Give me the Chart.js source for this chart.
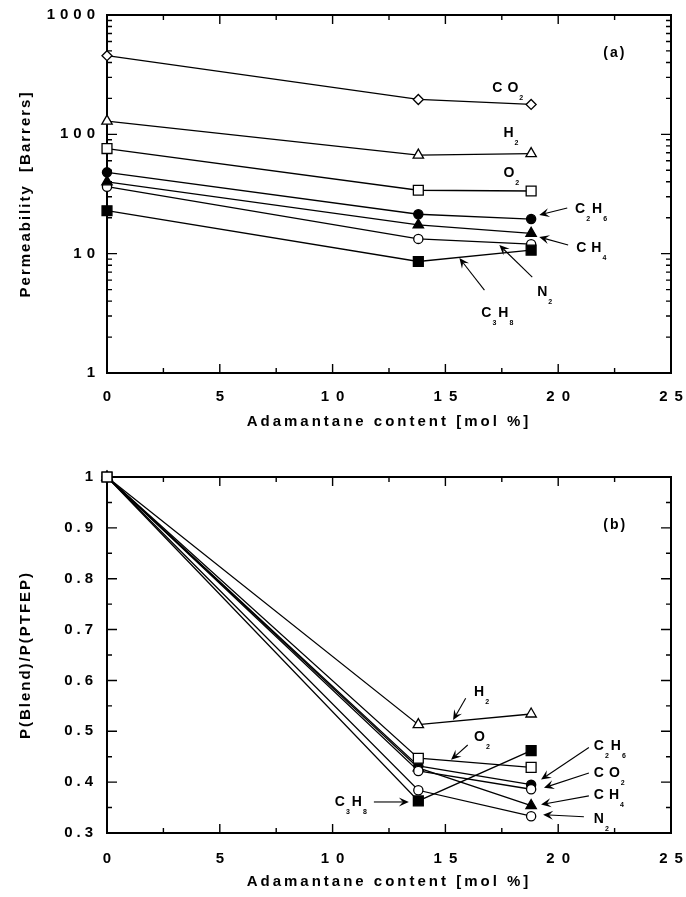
<!DOCTYPE html>
<html><head><meta charset="utf-8">
<script src="https://cdn.jsdelivr.net/npm/chart.js@4/dist/chart.umd.min.js"></script>
<style>
html,body{margin:0;padding:0;background:#fff;}
#wrap{position:relative;width:686px;height:897px;background:#fff;}
.c{position:absolute;left:0;width:686px;}
</style></head><body>
<div id="wrap">
<div class="c" style="top:0;height:440px"><canvas id="ca"></canvas></div>
<div class="c" style="top:440px;height:457px"><canvas id="cb"></canvas></div>
</div>
<script>
// ---------- data ----------
const adamantane = [0, 13.8, 18.8];               // mol %
const gases = ['CO2', 'H2', 'O2', 'C2H6', 'CH4', 'N2', 'C3H8'];
// (a) permeability [Barrers]
const permCO2  = [456, 196, 178];
const permH2   = [129, 67, 69];
const permO2   = [76, 34, 33.5];
const permC2H6 = [48, 21.4, 19.5];
const permCH4  = [40, 17.4, 14.8];
const permN2   = [36.4, 13.3, 12.0];
const permC3H8 = [22.9, 8.6, 10.7];
// (b) P(Blend)/P(PTFEP)
const ratioCO2  = [1, 0.422, 0.386];
const ratioH2   = [1, 0.513, 0.534];
const ratioO2   = [1, 0.447, 0.429];
const ratioC2H6 = [1, 0.432, 0.395];
const ratioCH4  = [1, 0.428, 0.354];
const ratioN2   = [1, 0.384, 0.333];
const ratioC3H8 = [1, 0.363, 0.462];
// tick labels
const xTicks = [0, 5, 10, 15, 20, 25];
const xMinorTicks = [2.5, 7.5, 12.5, 17.5, 22.5];
const yTicksA = [1, 10, 100, 1000];
const yTicksB = [0.3, 0.4, 0.5, 0.6, 0.7, 0.8, 0.9, 1];
const yMinorB = [0.35, 0.45, 0.55, 0.65, 0.75, 0.85, 0.95];
// annotations (data coordinates): [text, x, y]
const labelsA = [['(a)', 22.0, 480], ['CO_2', 17.08, 244], ['H_2', 17.57, 102.6], ['O_2', 17.57, 47.4],
  ['C_2H_6', 20.75, 23.7], ['CH_4', 20.8, 11.1], ['N_2', 19.07, 4.77], ['C_3H_8', 16.59, 3.18]];
const arrowsA = [[20.4, 24.1, 19.16, 21.1], [20.44, 11.8, 19.16, 13.8], [18.85, 6.37, 17.39, 11.8], [16.73, 4.95, 15.62, 9.19]];
const labelsB = [['(b)', 22.0, 0.905], ['H_2', 16.27, 0.577], ['O_2', 16.27, 0.489], ['C_2H_6', 21.58, 0.470],
  ['CO_2', 21.58, 0.418], ['CH_4', 21.58, 0.375], ['N_2', 21.58, 0.328], ['C_3H_8', 10.1, 0.360]];
const arrowsB = [[15.9, 0.565, 15.34, 0.522], [15.99, 0.473, 15.25, 0.444], [21.36, 0.468, 19.24, 0.405],
  [21.36, 0.418, 19.37, 0.389], [21.36, 0.373, 19.24, 0.356], [21.14, 0.332, 19.33, 0.336], [11.83, 0.361, 13.38, 0.361]];

// ---------- styles ----------
const FONT = '"Liberation Sans", Arial, Helvetica, sans-serif';
const markA = {CO2:['rectRot',false,5], H2:['triangle',false,6], O2:['rect',false,7], C2H6:['circle',true,4.6],
  CH4:['triangle',true,6], N2:['circle',false,4.6], C3H8:['rect',true,7]};
const markB = {CO2:['circle',false,4.6], H2:['triangle',false,6], O2:['rect',false,7], C2H6:['circle',true,4.6],
  CH4:['triangle',true,6], N2:['circle',false,4.6], C3H8:['rect',true,7]};
const dataA = {CO2:permCO2, H2:permH2, O2:permO2, C2H6:permC2H6, CH4:permCH4, N2:permN2, C3H8:permC3H8};
const dataB = {CO2:ratioCO2, H2:ratioH2, O2:ratioO2, C2H6:ratioC2H6, CH4:ratioCH4, N2:ratioN2, C3H8:ratioC3H8};
const orderA = {C3H8: -2};
const orderB = {O2: -1};

function datasets(data, marks, orders) {
  return gases.map(g => {
    const [ps, filled, r] = marks[g];
    return {
      label: g,
      data: adamantane.map((x, i) => ({x, y: data[g][i]})),
      borderColor: '#000', borderWidth: 1.3,
      pointStyle: ps, pointRadius: r, pointHoverRadius: r,
      pointBackgroundColor: filled ? '#000' : '#fff',
      pointBorderColor: '#000', pointBorderWidth: 1.3,
      showLine: true, fill: false, tension: 0, clip: false,
      order: orders[g] || 0
    };
  });
}

function drawRich(ctx, str, x, y) {
  const chars = [];
  for (let i = 0; i < str.length; i++) {
    if (str[i] === '_') { chars.push([str[i + 1], true]); i++; }
    else chars.push([str[i], false]);
  }
  let cx = x;
  ctx.textAlign = 'left'; ctx.textBaseline = 'middle'; ctx.fillStyle = '#000';
  chars.forEach(([ch, sub], k) => {
    ctx.font = sub ? 'bold 7px ' + FONT : 'bold 14px ' + FONT;
    ctx.fillText(ch, cx, sub ? y + 10 : y);
    const next = chars[k + 1];
    let gap = 5;
    if (next && next[1]) gap = 1; else if (sub) gap = 2;
    if (ch === '(' || ch === ')' || (next && next[0] === ')')) gap = 2;
    cx += ctx.measureText(ch).width + gap;
  });
}

function drawArrow(ctx, x1, y1, x2, y2) {
  const ang = Math.atan2(y2 - y1, x2 - x1);
  const L = 10, W = 4.5, N = 6;
  ctx.beginPath(); ctx.moveTo(x1, y1);
  ctx.lineTo(x2 - Math.cos(ang) * N, y2 - Math.sin(ang) * N); ctx.stroke();
  const c = Math.cos(ang), s = Math.sin(ang);
  const bx = x2 - c * L, by = y2 - s * L;
  ctx.beginPath();
  ctx.moveTo(x2, y2);
  ctx.lineTo(bx - s * W, by + c * W);
  ctx.lineTo(x2 - c * N, y2 - s * N);
  ctx.lineTo(bx + s * W, by - c * W);
  ctx.closePath(); ctx.fill();
}

function makePlugin(cfg) {
  return {
    id: 'frame',
    beforeDraw(chart) {
      Object.values(chart.scales).forEach(sc => {
        if (sc._spWrapped) return;
        sc._spWrapped = true;
        const dl = sc.drawLabels, dt = sc.drawTitle;
        const ls = sc.axis === 'x' ? cfg.xSp : cfg.ySp;
        const ts = sc.axis === 'x' ? cfg.xTitleSp : cfg.yTitleSp;
        sc.drawLabels = function (a) { const c = this.ctx; const o = c.letterSpacing; c.letterSpacing = ls; dl.call(this, a); c.letterSpacing = o; };
        sc.drawTitle = function (a) { const c = this.ctx; const o = c.letterSpacing; c.letterSpacing = ts; dt.call(this, a); c.letterSpacing = o; };
      });
    },
    beforeDatasetsDraw(chart) {
      const {ctx, chartArea: a, scales: {x, y}} = chart;
      ctx.save();
      ctx.strokeStyle = '#000';
      ctx.lineWidth = 2;
      ctx.strokeRect(a.left, a.top, a.right - a.left, a.bottom - a.top);
      ctx.lineWidth = 1.4;
      ctx.beginPath();
      const tk = (vals, len, isX) => vals.forEach(v => {
        if (isX) { const p = x.getPixelForValue(v); ctx.moveTo(p, a.bottom); ctx.lineTo(p, a.bottom - len); ctx.moveTo(p, a.top); ctx.lineTo(p, a.top + len); }
        else { const p = y.getPixelForValue(v); ctx.moveTo(a.left, p); ctx.lineTo(a.left + len, p); ctx.moveTo(a.right, p); ctx.lineTo(a.right - len, p); }
      });
      tk(cfg.xMajor, 9, true); tk(cfg.xMinor, 5, true);
      tk(cfg.yMajor, 10, false); tk(cfg.yMinor, 5, false);
      ctx.stroke();
      ctx.restore();
    },
    afterDraw(chart) {
      const {ctx, scales: {x, y}} = chart;
      ctx.save();
      ctx.strokeStyle = '#000'; ctx.fillStyle = '#000'; ctx.lineWidth = 1.1;
      cfg.arrows.forEach(([a, b, c, d]) => drawArrow(ctx, x.getPixelForValue(a), y.getPixelForValue(b), x.getPixelForValue(c), y.getPixelForValue(d)));
      cfg.labels.forEach(([t, a, b]) => drawRich(ctx, t, x.getPixelForValue(a), y.getPixelForValue(b)));
      ctx.restore();
    }
  };
}

function xScale(titlePadBottom, tickPad, height) {
  return {
    type: 'linear', min: 0, max: 25,
    afterBuildTicks: s => { s.ticks = xTicks.map(v => ({value: v})); },
    ticks: {padding: tickPad, labelOffset: 3.5, color: '#000', font: {family: FONT, size: 15, weight: 'bold'}, maxRotation: 0, autoSkip: false, callback: v => String(v)},
    grid: {display: false, drawTicks: false}, border: {display: false},
    title: {display: true, text: 'Adamantane content [mol %]', color: '#000', font: {family: FONT, size: 15, weight: 'bold'}, padding: {top: 0, bottom: titlePadBottom}},
    afterFit: s => { s.height = height; s.paddingLeft = 0; s.paddingRight = 0; }
  };
}

const yMinorA = [];
[1, 10, 100].forEach(d => { for (let m = 2; m <= 9; m++) yMinorA.push(m * d); });

new Chart(document.getElementById('ca'), {
  type: 'scatter',
  data: {datasets: datasets(dataA, markA, orderA)},
  options: {
    responsive: true, maintainAspectRatio: false, animation: false,
    layout: {padding: {top: 15, right: 15, left: 0, bottom: 0}},
    plugins: {legend: {display: false}, tooltip: {enabled: false}},
    scales: {
      x: xScale(9, 15, 67),
      y: {
        type: 'logarithmic', min: 1, max: 1000,
        afterBuildTicks: s => { s.ticks = yTicksA.map(v => ({value: v, major: true})); },
        ticks: {padding: 7, color: '#000', font: {family: FONT, size: 15, weight: 'bold'}, autoSkip: false, callback: v => String(v)},
        grid: {display: false, drawTicks: false}, border: {display: false},
        title: {display: true, text: 'Permeability  [Barrers]', color: '#000', font: {family: FONT, size: 15, weight: 'bold'}, padding: {top: 17, bottom: 0}},
        afterFit: s => { s.width = 107; s.paddingTop = 0; s.paddingBottom = 0; }
      }
    }
  },
  plugins: [makePlugin({xMajor: xTicks, xMinor: xMinorTicks, yMajor: yTicksA, yMinor: yMinorA,
    labels: labelsA, arrows: arrowsA, xSp: '7px', ySp: '5px', xTitleSp: '3px', yTitleSp: '2px'})]
});

new Chart(document.getElementById('cb'), {
  type: 'scatter',
  data: {datasets: datasets(dataB, markB, orderB)},
  options: {
    responsive: true, maintainAspectRatio: false, animation: false,
    layout: {padding: {top: 37, right: 15, left: 0, bottom: 0}},
    plugins: {legend: {display: false}, tooltip: {enabled: false}},
    scales: {
      x: xScale(6, 17, 64),
      y: {
        type: 'linear', min: 0.3, max: 1,
        afterBuildTicks: s => { s.ticks = yTicksB.map(v => ({value: v})); },
        ticks: {padding: 10, color: '#000', font: {family: FONT, size: 15, weight: 'bold'}, autoSkip: false, callback: v => String(Number(v.toFixed(1)))},
        grid: {display: false, drawTicks: false}, border: {display: false},
        title: {display: true, text: 'P(Blend)/P(PTFEP)', color: '#000', font: {family: FONT, size: 15, weight: 'bold'}, padding: {top: 17, bottom: 0}},
        afterFit: s => { s.width = 107; s.paddingTop = 0; s.paddingBottom = 0; }
      }
    }
  },
  plugins: [makePlugin({xMajor: xTicks, xMinor: xMinorTicks, yMajor: yTicksB, yMinor: yMinorB,
    labels: labelsB, arrows: arrowsB, xSp: '7px', ySp: '4px', xTitleSp: '3px', yTitleSp: '2px'})]
});
</script>
</body></html>
